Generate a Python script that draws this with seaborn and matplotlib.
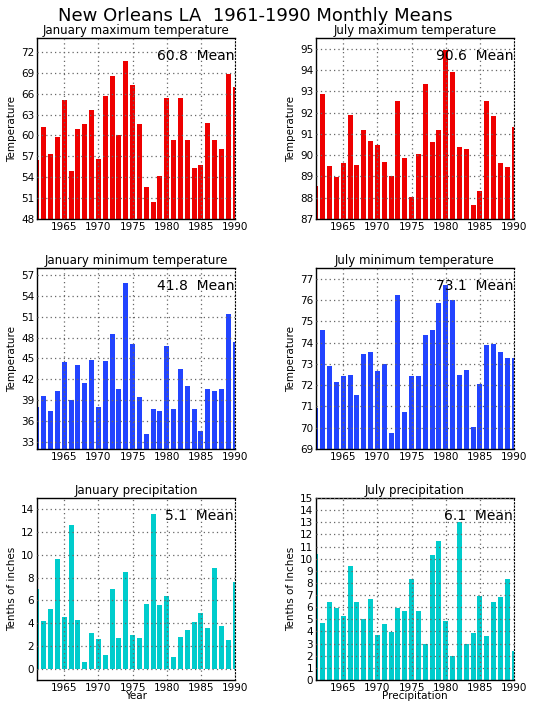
import numpy as np
import pandas as pd
import matplotlib
matplotlib.use("Agg")
import matplotlib.pyplot as plt
import seaborn as sns

sns.set_style("white")
plt.rcParams['font.family'] = ['DejaVu Sans']
plt.rcParams['text.color'] = 'black'
plt.rcParams['xtick.color'] = 'black'
plt.rcParams['ytick.color'] = 'black'
plt.rcParams['axes.labelcolor'] = 'black'

years = list(range(1961, 1991))

jan_max = [56.5, 61.25, 57.4, 59.8, 65.1, 54.9, 61.0, 61.7, 63.7, 56.6,
           65.6, 68.6, 60.0, 70.75, 67.3, 61.7, 52.6, 50.45, 54.2, 65.4,
           59.4, 65.4, 59.4, 55.3, 55.8, 61.8, 59.4, 58.1, 68.9, 67.0]
jul_max = [88.57, 92.85, 89.5, 88.98, 89.64, 91.9, 89.55, 91.2, 90.68, 90.49,
           89.69, 89.04, 92.52, 89.88, 88.04, 90.07, 93.32, 90.63, 91.2, 94.92,
           93.89, 90.36, 90.27, 87.66, 88.32, 92.52, 91.86, 89.64, 89.45, 91.34]
jan_min = [38.1, 39.6, 37.5, 40.3, 44.5, 39.0, 44.06, 41.45, 44.84, 38.0,
           44.64, 48.56, 40.6, 55.8, 47.1, 39.4, 34.2, 37.7, 37.5, 46.8,
           37.7, 43.5, 41.0, 37.8, 34.6, 40.6, 40.4, 40.6, 51.45, 47.4]
jul_min = [70.92, 74.6, 72.9, 72.14, 72.43, 72.47, 71.53, 73.47, 73.56, 72.66,
           72.99, 69.74, 76.25, 70.73, 72.43, 72.43, 74.36, 74.6, 75.87, 76.72,
           76.0, 72.47, 72.71, 70.02, 72.05, 73.89, 73.94, 73.56, 73.28, 73.28]
jan_prcp = [7.0, 4.18, 5.24, 9.65, 4.53, 12.65, 4.26, 0.56, 3.12, 2.59,
            1.18, 7.0, 2.68, 8.5, 2.94, 2.68, 5.68, 13.6, 5.59, 6.38,
            1.0, 2.76, 3.38, 4.09, 4.88, 3.56, 8.85, 3.74, 2.5, 7.62]
jul_prcp = [10.4, 4.7, 6.44, 5.95, 5.28, 9.41, 6.44, 5.04, 6.69, 3.72,
            4.62, 3.96, 5.95, 5.7, 8.34, 5.7, 2.97, 10.32, 11.48, 4.87,
            1.98, 13.05, 2.97, 3.88, 6.94, 3.63, 6.44, 6.85, 8.34, 2.39]

titles = ["January maximum temperature", "July maximum temperature",
          "January minimum temperature", "July minimum temperature",
          "January precipitation", "July precipitation"]
means = ["60.8", "90.6", "41.8", "73.1", "5.1", "6.1"]
ylabels = ["Temperature", "Temperature", "Temperature", "Temperature",
           "Tenths of inches", "Tenths of Inches"]
xlabels = ["", "", "", "", "Year", "Precipitation"]

RED = "#EE0000"
BLUE = "#2244FF"
CYAN = "#00CCCC"

series = [jan_max, jul_max, jan_min, jul_min, jan_prcp, jul_prcp]
colors = [RED, RED, BLUE, BLUE, CYAN, CYAN]
ylims = [(48, 74), (87, 95.5), (32, 58), (69, 77.5), (-1, 15), (0, 15)]
yticks = [np.arange(48, 73, 3), np.arange(87, 96, 1), np.arange(33, 58, 3),
          np.arange(69, 78, 1), np.arange(0, 15, 2), np.arange(0, 16, 1)]

W, H = 533, 711
fig = plt.figure(figsize=(W / 100, H / 100), dpi=100)

lefts = [37, 316]
rows = [(38, 219), (268, 449), (498, 680)]

for i in range(6):
    r, c = divmod(i, 2)
    top, bot = rows[r]
    left = lefts[c]
    ax = fig.add_axes([left / W, 1 - bot / H, 198 / W, (bot - top) / H])
    df = pd.DataFrame({"year": years, "val": series[i]})
    sns.barplot(data=df, x="year", y="val", native_scale=True, color=colors[i],
                saturation=1, width=0.73, ax=ax, errorbar=None, linewidth=0)
    ax.set_xlim(1961, 1990)
    ax.set_ylim(*ylims[i])
    ax.set_xticks(range(1965, 1991, 5))
    ax.set_yticks(yticks[i])
    ax.tick_params(labelsize=7.5, length=0, pad=2, colors="black")
    ax.set_axisbelow(False)
    ax.grid(True, color="#666666", linestyle=(0, (1, 2.5)), linewidth=0.9)
    for s in ["left", "bottom", "top"]:
        ax.spines[s].set_visible(True)
        ax.spines[s].set_color("black")
        ax.spines[s].set_linewidth(1.0)
    ax.spines["right"].set_visible(True)
    ax.spines["right"].set_color("black")
    ax.spines["right"].set_linestyle((0, (1, 2)))
    ax.set_title(titles[i], fontsize=8.5, pad=3, color="black")
    ax.set_ylabel(ylabels[i], fontsize=7.5, labelpad=3, color="black")
    ax.set_xlabel(xlabels[i], fontsize=7.5, labelpad=-1, color="black")
    ax.text(0.995, 0.9, means[i] + "  Mean", transform=ax.transAxes,
            ha="right", va="center", fontsize=10, color="black")

fig.text(255 / W, 1 - 16 / H, "New Orleans LA  1961-1990 Monthly Means",
         ha="center", va="center", fontsize=13, color="black")

fig.savefig("out.png", dpi=100)
